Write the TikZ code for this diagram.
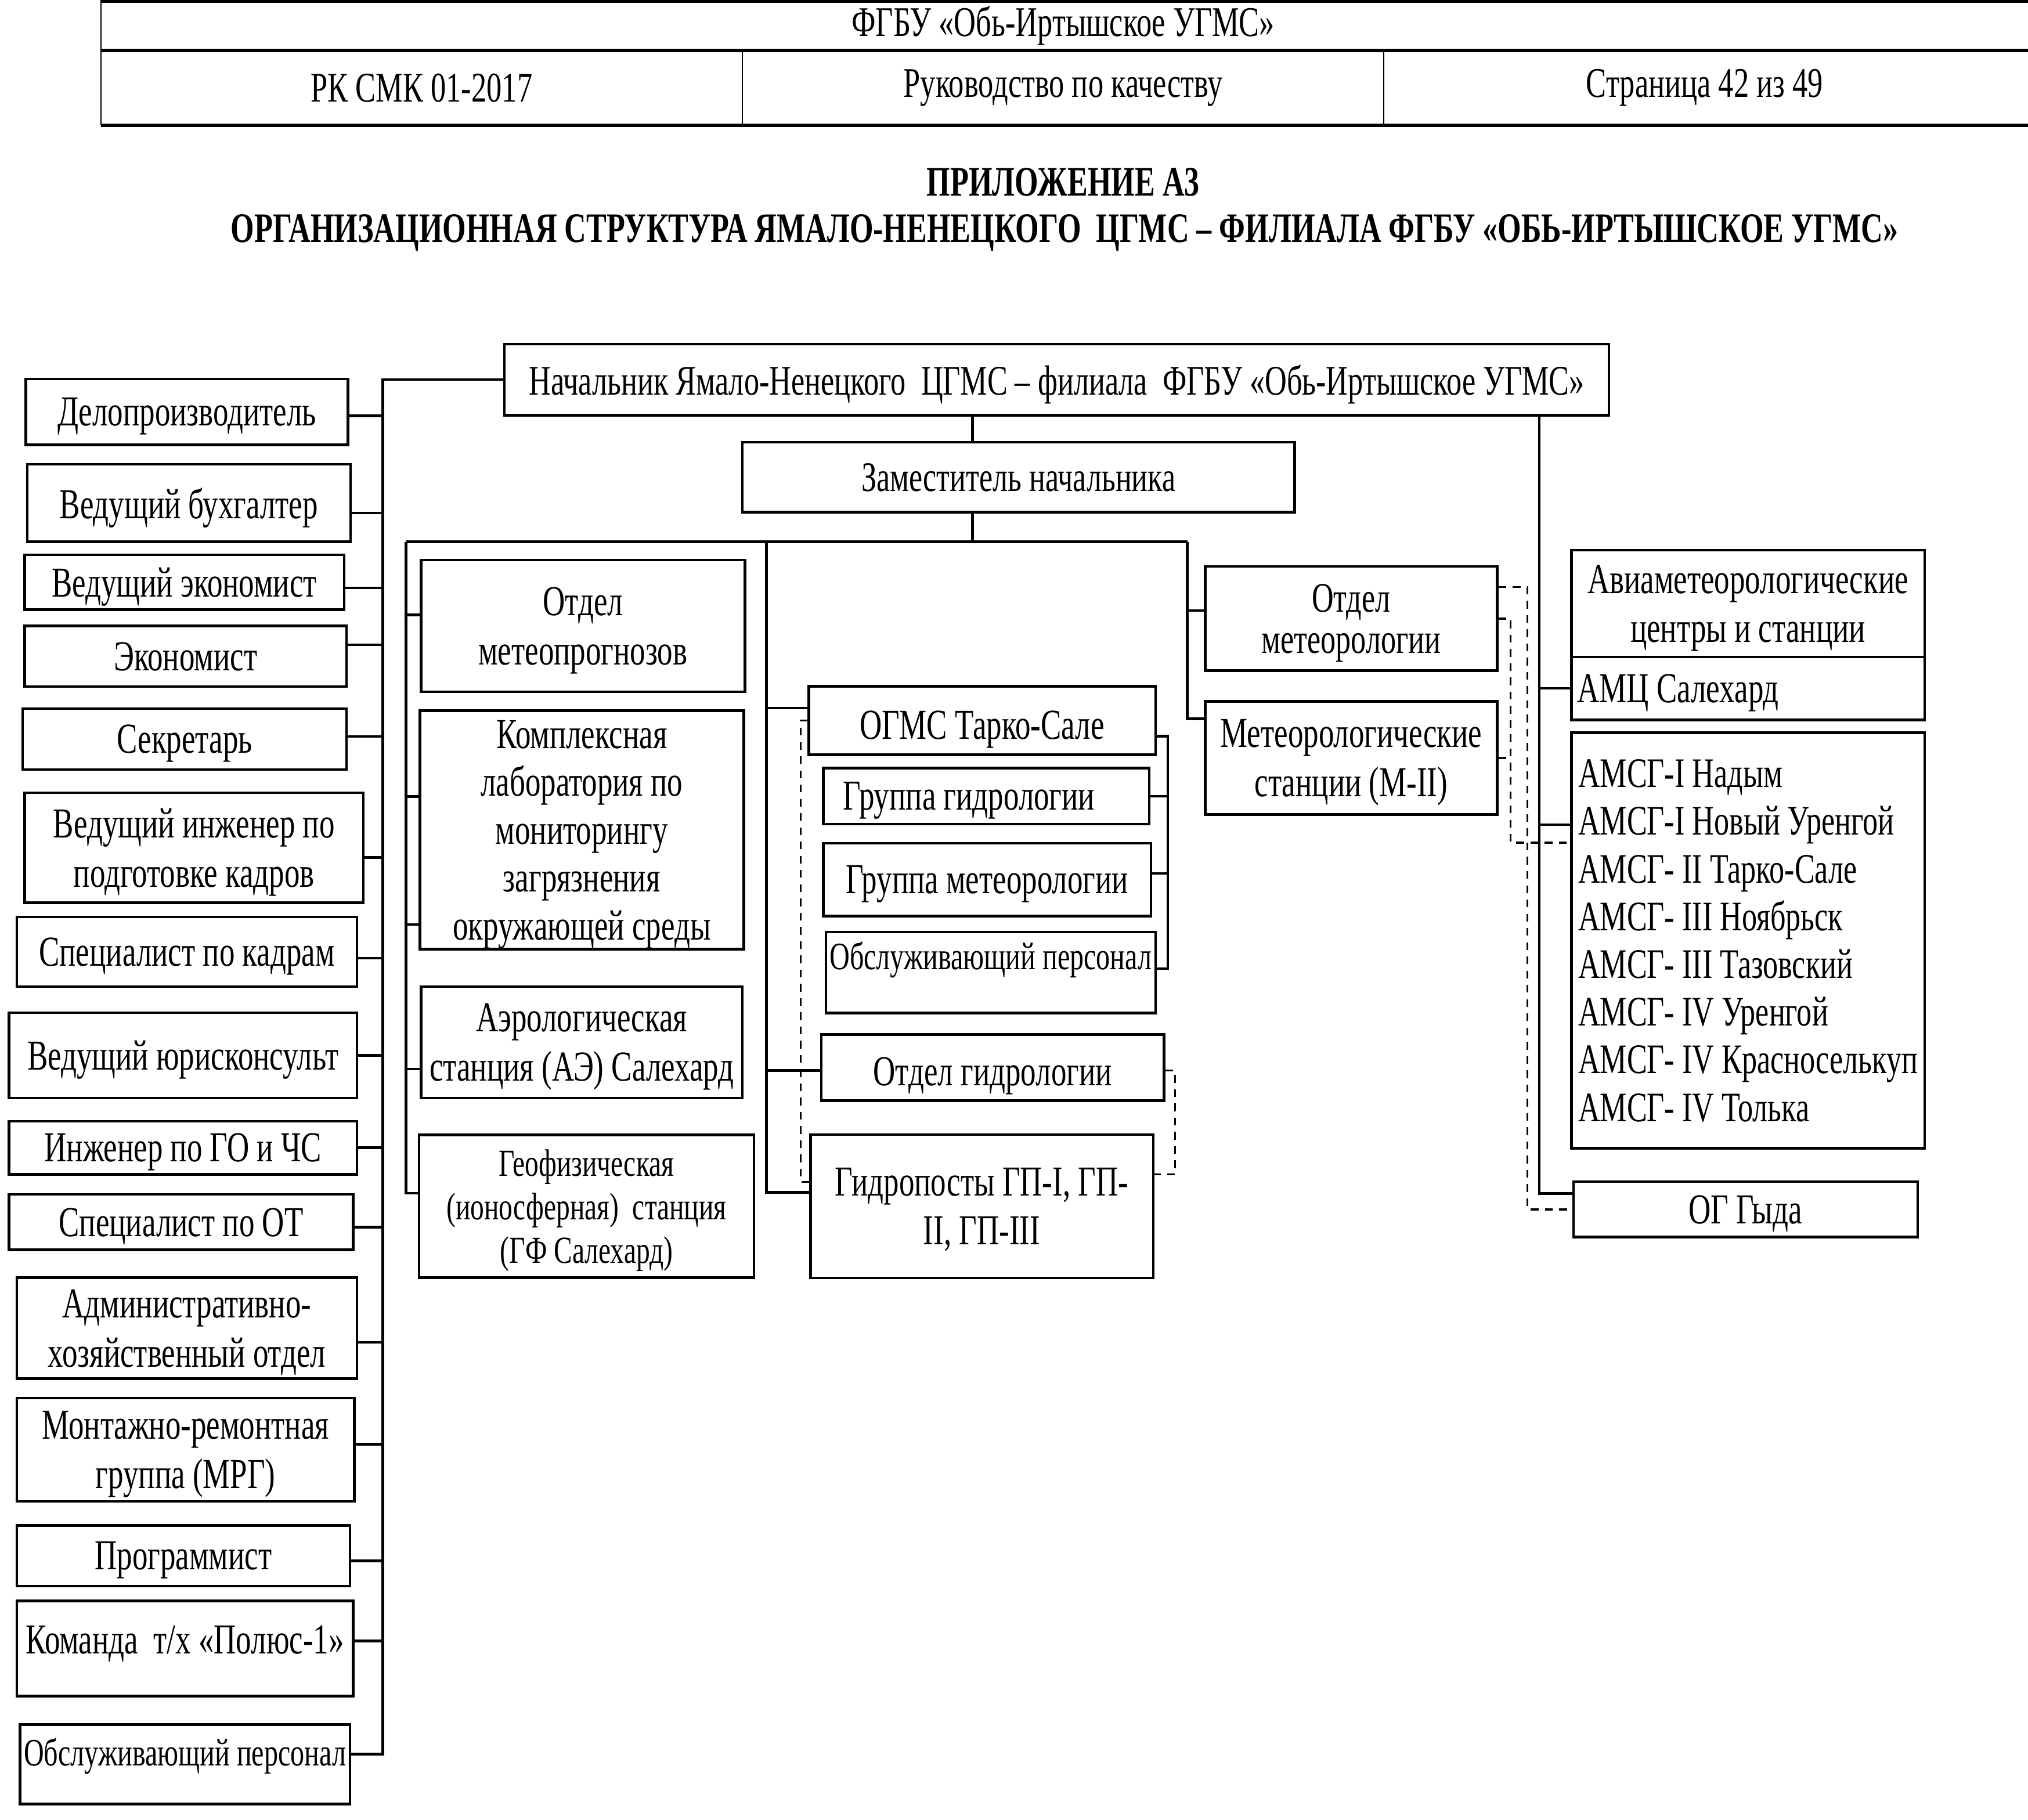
\documentclass[tikz,border=0pt]{standalone}
\usepackage{fontspec}
\setmainfont{Liberation Serif}[FakeStretch=0.72]
\begin{document}
\begin{tikzpicture}[x=0.5pt,y=-0.5pt,
    unit/.style={draw, line width=1pt, inner sep=0pt, align=flush center, text depth=0pt,
      font=\fontsize{16.5}{19}\selectfont},
    head/.style={inner sep=0pt, font=\fontsize{16.35}{19}\selectfont},
    title/.style={inner sep=0pt, font=\fontsize{16.25}{19}\selectfont\bfseries},
    link/.style={line width=1pt},
    dlink/.style={line width=0.8pt, dash pattern=on 3pt off 2.5pt},
  ]
\useasboundingbox (0,0) rectangle (1568,1407);

% header of the page
\draw[line width=1.2pt] (78,1) -- (1568,1);
\draw[line width=1.2pt] (78,39) -- (1568,39);
\draw[line width=1.2pt] (78,97) -- (1568,97);
\draw[line width=0.5pt] (78,0) -- (78,97);
\draw[line width=0.5pt] (574,39) -- (574,97) (1070,39) -- (1070,97);
\node[head] (org) at (822,20) {ФГБУ «Обь-Иртышское УГМС»};
\node[head] (code) at (326,68) {РК СМК 01-2017};
\node[head] (manual) at (822,68) {Руководство по качеству};
\node[head] (page) at (1318,68) {Страница 42 из 49};
\node[title] (app) at (822,141) {ПРИЛОЖЕНИЕ А3};
\node[title] (struct) at (823,180) {ОРГАНИЗАЦИОННАЯ СТРУКТУРА ЯМАЛО-НЕНЕЦКОГО\ \ ЦГМС – ФИЛИАЛА ФГБУ «ОБЬ-ИРТЫШСКОЕ УГМС»};

% management
\node[unit, minimum width=427pt, minimum height=27.5pt, font=\fontsize{16.3}{19}\selectfont] (boss) at (817,293.5) {Начальник Ямало-Ненецкого\ \ ЦГМС – филиала\ \ ФГБУ «Обь-Иртышское УГМС»};
\node[unit, minimum width=213.5pt, minimum height=27pt, font=\fontsize{16.25}{19}\selectfont] (deputy) at (787.5,369) {Заместитель начальника};

% left column
\node[unit, minimum width=124.5pt, minimum height=25.5pt] (dp) at (144.5,318.5) {Делопроизводитель};
\node[unit, minimum width=125pt, minimum height=30pt] (buh) at (146,389) {Ведущий бухгалтер};
\node[unit, minimum width=123.5pt, minimum height=21.25pt] (vecon) at (142.5,450.25) {Ведущий экономист};
\node[unit, minimum width=124.5pt, minimum height=23.5pt] (econ) at (143.5,507.5) {Экономист};
\node[unit, minimum width=125.25pt, minimum height=23.5pt] (secr) at (142.75,571.5) {Секретарь};
\node[unit, minimum width=131pt, minimum height=42.5pt] (ving) at (150,655.5) {Ведущий инженер по\\подготовке кадров};
\node[unit, minimum width=131.5pt, minimum height=27pt] (skadr) at (144.5,736) {Специалист по кадрам};
\node[unit, minimum width=134.5pt, minimum height=33pt] (yur) at (141.5,816) {Ведущий юрисконсульт};
\node[unit, minimum width=134.5pt, minimum height=20.5pt] (gochs) at (141.5,887.5) {Инженер по ГО и ЧС};
\node[unit, minimum width=133pt, minimum height=21.5pt] (ot) at (140,945) {Специалист по ОТ};
\node[unit, minimum width=131.5pt, minimum height=39pt] (ahch) at (144.5,1027) {Административно-\\хозяйственный отдел};
\node[unit, minimum width=130.5pt, minimum height=40pt] (mrg) at (143.5,1121) {Монтажно-ремонтная\\группа (МРГ)};
\node[unit, minimum width=128.75pt, minimum height=23.5pt] (prog) at (141.75,1203) {Программист};
\node[unit, minimum width=130pt, minimum height=36.75pt, text depth=7pt] (pol) at (143,1274.75) {Команда\ \ т/х «Полюс-1»};
\node[unit, minimum width=127.5pt, minimum height=30.75pt, text depth=9.5pt, font=\fontsize{15}{18}\selectfont] (obsl) at (143,1364.25) {Обслуживающий персонал};

% departments
\node[unit, minimum width=125.25pt, minimum height=51pt] (mprog) at (450.75,484) {Отдел\\метеопрогнозов};
\node[unit, minimum width=125.2pt, minimum height=92.2pt, font=\fontsize{16.5}{18.5}\selectfont] (lab) at (449.8,641.8) {Комплексная\\лаборатория по\\мониторингу\\загрязнения\\окружающей среды};
\node[unit, minimum width=124.25pt, minimum height=43pt] (aero) at (449.75,806) {Аэрологическая\\станция (АЭ) Салехард};
\node[unit, minimum width=129.5pt, minimum height=55.25pt, font=\fontsize{14.8}{16.75}\selectfont] (geo) at (453.5,932.75) {Геофизическая\\(ионосферная)\ \ станция\\(ГФ Салехард)};

\node[unit, minimum width=134pt, minimum height=26.45pt, text height=14.4pt] (ogms) at (759.4,557.15) {ОГМС Тарко-Сале};
\node[unit, minimum height=21.65pt, inner xsep=7.7pt, text width=110.6pt, align=flush left] (ggidro) at (762.6,615.65) {Группа гидрологии};
\node[unit, minimum width=126.7pt, minimum height=28.2pt] (gmeteo) at (763.3,680.2) {Группа метеорологии};
\node[unit, minimum width=127.45pt, minimum height=31.3pt, text depth=13.2pt, font=\fontsize{15}{18}\selectfont] (cobsl) at (766,752.1) {Обслуживающий персонал};
\node[unit, minimum width=132.5pt, minimum height=25.5pt, text height=14.1pt] (ogidro) at (767.5,825.5) {Отдел гидрологии};
\node[unit, minimum width=132.5pt, minimum height=55.45pt] (gp) at (759.1,932.75) {Гидропосты ГП-I, ГП-\\II, ГП-III};

\node[unit, minimum width=112.9pt, minimum height=40.3pt, font=\fontsize{16.25}{16}\selectfont] (ometeo) at (1044.7,478.3) {Отдел\\метеорологии};
\node[unit, minimum width=112.9pt, minimum height=43.75pt] (mst) at (1044.7,586.15) {Метеорологические\\станции (М-II)};

% aviation stations
\node[unit, minimum width=136.5pt, minimum height=41.25pt] (avia) at (1351.5,466.75) {Авиаметеорологические\\центры и станции};
\node[unit, minimum height=24.3pt, inner xsep=2.25pt, text width=132pt, align=flush left] (amc) at (1351.5,532.3) {АМЦ Салехард};
\node[unit, minimum width=136.5pt, minimum height=160.6pt, align=flush left, font=\fontsize{16.25}{18.45}\selectfont] (amsg) at (1351.5,727.2) {АМСГ-I Надым\\АМСГ-I Новый Уренгой\\АМСГ- II Тарко-Сале\\АМСГ- III Ноябрьск\\АМСГ- III Тазовский\\АМСГ- IV Уренгой\\АМСГ- IV Красноселькуп\\АМСГ- IV Толька};
\node[unit, minimum width=133.05pt, minimum height=21.35pt] (gyda) at (1349.55,935.15) {ОГ Гыда};

% trunks
\coordinate (ltrunk) at (296,0);
\coordinate (dtrunk) at (752,0);
\coordinate (hbar) at (0,419);
\coordinate (mtrunk) at (314,0);
\coordinate (ctrunk) at (592.5,0);
\coordinate (rmtrunk) at (918,0);
\coordinate (rtrunk) at (1190,0);
\coordinate (bracket) at (903,0);
\coordinate (dleft) at (619,0);
\coordinate (dright) at (908.5,0);
\coordinate (dgyda) at (1181,0);
\coordinate (damsg) at (1168,0);

% left staff
\draw[link] (boss.west) -| ([yshift=3.9pt]obsl.east -| ltrunk) -- ([yshift=3.9pt]obsl.east);
\draw[link] ([yshift=-1.55pt]dp.east) -- ([yshift=-1.55pt]dp.east -| ltrunk);
\draw[link] ([yshift=-3.8pt]buh.east) -- ([yshift=-3.8pt]buh.east -| ltrunk);
\draw[link] ([yshift=-2.2pt]vecon.east) -- ([yshift=-2.2pt]vecon.east -| ltrunk);
\draw[link] ([yshift=4.4pt]econ.east) -- ([yshift=4.4pt]econ.east -| ltrunk);
\draw[link] ([yshift=1pt]secr.east) -- ([yshift=1pt]secr.east -| ltrunk);
\draw[link] ([yshift=-3.75pt]ving.east) -- ([yshift=-3.75pt]ving.east -| ltrunk);
\draw[link] ([yshift=-2.5pt]skadr.east) -- ([yshift=-2.5pt]skadr.east -| ltrunk);
\draw[link] (yur.east) -- (yur.east -| ltrunk);
\draw[link] (gochs.east) -- (gochs.east -| ltrunk);
\draw[link] ([yshift=-2pt]ot.east) -- ([yshift=-2pt]ot.east -| ltrunk);
\draw[link] ([yshift=-5.5pt]ahch.east) -- ([yshift=-5.5pt]ahch.east -| ltrunk);
\draw[link] ([yshift=2.15pt]mrg.east) -- ([yshift=2.15pt]mrg.east -| ltrunk);
\draw[link] ([yshift=-2pt]prog.east) -- ([yshift=-2pt]prog.east -| ltrunk);
\draw[link] ([yshift=2.9pt]pol.east) -- ([yshift=2.9pt]pol.east -| ltrunk);

% deputy and bar
\draw[link] (boss.south -| dtrunk) -- (deputy.north -| dtrunk);
\draw[link] (deputy.south -| dtrunk) -- (dtrunk |- hbar);
\draw[link] (mtrunk |- hbar) -- (rmtrunk |- hbar);

% departments under the deputy
\draw[link] (mtrunk |- hbar) -- ([yshift=5pt]geo.west -| mtrunk) -- ([yshift=5pt]geo.west);
\draw[link] ([yshift=4.25pt]mprog.west) -- ([yshift=4.25pt]mprog.west -| mtrunk);
\draw[link] ([yshift=12.9pt]lab.west) -- ([yshift=12.9pt]lab.west -| mtrunk);
\draw[link] ([yshift=-36.6pt]lab.west) -- ([yshift=-36.6pt]lab.west -| mtrunk);
\draw[link] ([yshift=-10.3pt]aero.west) -- ([yshift=-10.3pt]aero.west -| mtrunk);

\draw[link] (ctrunk |- hbar) -- ([yshift=5.4pt]gp.west -| ctrunk) -- ([yshift=5.4pt]gp.west);
\draw[link] ([yshift=4.8pt]ogms.west) -- ([yshift=4.8pt]ogms.west -| ctrunk);
\draw[link] ([yshift=-1.15pt]ogidro.west) -- ([yshift=-1.15pt]ogidro.west -| ctrunk);
\draw[link] ([yshift=-6.1pt]ogms.east) -| ([yshift=1.55pt]cobsl.east -| bracket) -- ([yshift=1.55pt]cobsl.east);
\draw[link] (ggidro.east) -- (ggidro.east -| bracket);
\draw[link] ([yshift=2.35pt]gmeteo.east) -- ([yshift=2.35pt]gmeteo.east -| bracket);

\draw[link] (rmtrunk |- hbar) -- ([yshift=15.2pt]mst.west -| rmtrunk) -- ([yshift=15.2pt]mst.west);
\draw[link] ([yshift=3.15pt]ometeo.west) -- ([yshift=3.15pt]ometeo.west -| rmtrunk);

% aviation trunk
\draw[link] (boss.south -| rtrunk) -- ([yshift=6.1pt]gyda.west -| rtrunk) -- ([yshift=6.1pt]gyda.west);
\draw[link] (amc.west) -- (amc.west -| rtrunk);
\draw[link] ([yshift=44.8pt]amsg.west) -- ([yshift=44.8pt]amsg.west -| rtrunk);

% methodical links
\draw[dlink] (ogms.west) -| ([yshift=9.4pt]gp.west -| dleft) -- ([yshift=9.4pt]gp.west);
\draw[dlink] ([yshift=-1.15pt]ogidro.east) -| ([yshift=12.3pt]gp.east -| dright) -- ([yshift=12.3pt]gp.east);
\draw[dlink] ([yshift=12.15pt]ometeo.east) -| (gyda.west -| dgyda) -- (gyda.west);
\draw[dlink] (ometeo.east) -| ([yshift=37.8pt]amsg.west -| damsg) -- ([yshift=37.8pt]amsg.west);
\draw[dlink] (mst.east) -- (mst.east -| damsg);
\end{tikzpicture}
\end{document}
